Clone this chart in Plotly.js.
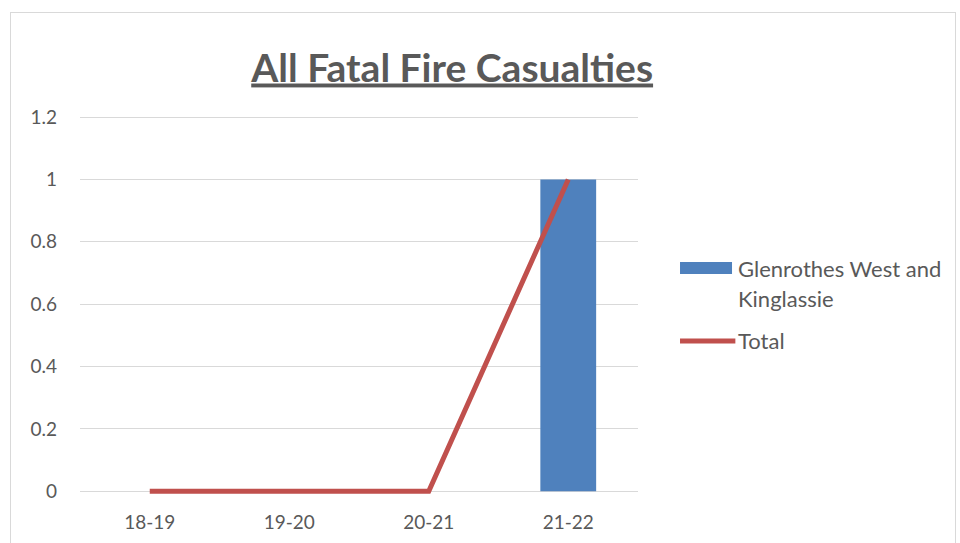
<!DOCTYPE html>
<html>
<head>
<meta charset="utf-8">
<script src="https://cdn.plot.ly/plotly-3.0.1.min.js"></script>
<style>
  body { margin: 0; background: #fff; }
  #chart { position: absolute; left: 0; top: 0; width: 960px; height: 543px; }
  #frame { position: absolute; left: 10px; top: 12px; width: 944px; height: 540px; border: 1px solid #D9D9D9; pointer-events: none; }
</style>
</head>
<body>
<div id="chart"></div>
<div id="frame"></div>
<script>
const categories = ["18-19", "19-20", "20-21", "21-22"];
const areaValues = [0, 0, 0, 1];
const totalValues = [0, 0, 0, 1];
const areaName = "Glenrothes West and<br>Kinglassie";
const areaNameLines = ["Glenrothes West and", "Kinglassie"];
const totalName = "Total";
const yTicks = [0, 0.2, 0.4, 0.6, 0.8, 1, 1.2];
const yTickText = ["0", "0.2", "0.4", "0.6", "0.8", "1", "1.2"];

const barColor = "#4F81BD";
const lineColor = "#C0504D";
const textColor = "#595959";
const fontFam = "Lato, 'Open Sans', sans-serif";

const traces = [
  {
    type: "bar",
    x: categories,
    y: areaValues,
    name: areaName,
    marker: { color: barColor },
    width: 0.4,
    showlegend: false
  },
  {
    type: "scatter",
    mode: "lines",
    x: categories,
    y: totalValues,
    name: totalName,
    line: { color: lineColor, width: 5 },
    showlegend: false
  }
];

// Custom legend (paper coordinates) to mimic the wide Excel legend keys
const legendX0 = 1.0753, legendX1 = 1.1685, legendTextX = 1.1774;
const shapes = [
  { type: "rect", xref: "paper", yref: "paper", x0: legendX0, x1: legendX1, y0: 0.580, y1: 0.6115,
    fillcolor: barColor, line: { width: 0 } },
  { type: "line", xref: "paper", yref: "paper", x0: legendX0, x1: legendX1 + 0.006, y0: 0.4042, y1: 0.4042,
    line: { color: lineColor, width: 5 } }
];
const legendFont = { family: fontFam, size: 22, color: textColor };
const annotations = [
  { xref: "paper", yref: "paper", x: legendTextX, y: 0.5958, xanchor: "left", yanchor: "middle",
    text: areaNameLines[0], showarrow: false, font: legendFont, borderpad: 0 },
  { xref: "paper", yref: "paper", x: legendTextX, y: 0.517, xanchor: "left", yanchor: "middle",
    text: areaNameLines[1], showarrow: false, font: legendFont, borderpad: 0 },
  { xref: "paper", yref: "paper", x: legendTextX, y: 0.4042, xanchor: "left", yanchor: "middle",
    text: totalName, showarrow: false, font: legendFont, borderpad: 0 }
];

const layout = {
  width: 960,
  height: 543,
  margin: { l: 80, r: 322, t: 114, b: 48 },
  paper_bgcolor: "rgba(0,0,0,0)",
  plot_bgcolor: "#fff",
  font: { family: fontFam, color: textColor, size: 19 },
  title: {
    text: "<b><u>All Fatal Fire Casualties</u></b>",
    font: { family: fontFam, size: 39, color: textColor },
    x: 0.471, xanchor: "center",
    y: 0.875, yanchor: "middle"
  },
  xaxis: {
    type: "category",
    showgrid: false,
    showline: false,
    zeroline: false,
    ticks: "",
    ticklabelstandoff: 14,
    tickfont: { size: 19, color: textColor }
  },
  yaxis: {
    range: [-0.012, 1.21],
    tickvals: yTicks,
    ticktext: yTickText,
    showgrid: true,
    gridcolor: "#D9D9D9",
    gridwidth: 1,
    zeroline: false,
    showline: false,
    ticks: "",
    ticklabelstandoff: 22,
    tickfont: { size: 19, color: textColor }
  },
  shapes: shapes,
  annotations: annotations,
  showlegend: false
};

Plotly.newPlot("chart", traces, layout, { displayModeBar: false, staticPlot: true });
</script>
</body>
</html>
